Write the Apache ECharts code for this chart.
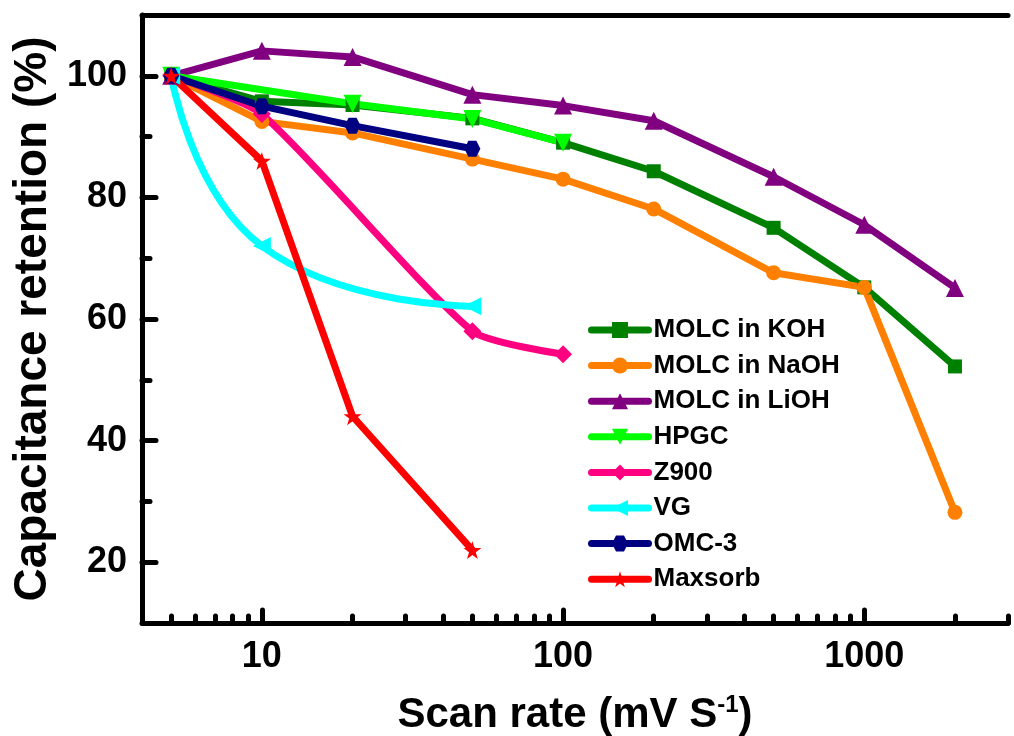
<!DOCTYPE html>
<html>
<head>
<meta charset="utf-8">
<script src="https://cdn.jsdelivr.net/npm/echarts@6/dist/echarts.min.js"></script>
<style>
  html, body { margin: 0; padding: 0; background: #fff; }
  #chart { width: 1014px; height: 736px; }
</style>
</head>
<body>
<div id="chart"></div>
<script>
// scan rates (mV/s) and capacitance retention (%)
const scanRates = [5, 10, 20, 50, 100, 200, 500, 1000, 2000];
const kohRetention = [100, 95.8, 95.2, 93, 89, 84.3, 75, 65.2, 52.2];
const naohRetention = [100, 92.5, 90.6, 86.3, 83, 78.1, 67.6, 65.2, 28.2];
const liohRetention = [100, 104.1, 103.1, 96.9, 95.1, 92.6, 83.4, 75.5, 65.1];

const hpgcRates = [5, 20, 50, 100];
const hpgcRetention = [100, 95.4, 92.9, 89];

const z900Rates = [5, 10, 50, 100];
const z900Retention = [100, 93.7, 58, 54.2];

const vgRates = [5, 10, 50];
const vgRetention = [100, 72, 62.1];

const omcRates = [5, 10, 20, 50];
const omcRetention = [100, 95, 91.8, 88];

const maxsorbRates = [5, 10, 20, 50];
const maxsorbRetention = [100, 86, 44, 22];

// axis ticks
const xMajorTicks = [10, 100, 1000];
const xMinorTicks = [5, 6, 7, 8, 9, 20, 30, 40, 50, 60, 70, 80, 90,
  200, 300, 400, 500, 600, 700, 800, 900, 2000, 3000];
const yMajorTicks = [20, 40, 60, 80, 100];
const yMinorTicks = [30, 50, 70, 90];

const FONT = '"Liberation Sans", Arial, sans-serif';
const STAR = 'path://M50,0 L61,35 L98,35 L68,57 L79,91 L50,70 L21,91 L32,57 L2,35 L39,35 Z';
const HEXAGON = 'path://M25,0 L75,0 L100,43 L75,86 L25,86 L0,43 Z';

const pairs = (xs, ys) => xs.map((x, i) => [x, ys[i]]);

const makeSeries = (name, color, symbol, xs, ys, extra) => ({
  name,
  type: 'line',
  data: pairs(xs, ys),
  symbol,
  symbolSize: 15,
  lineStyle: { color, width: 7, cap: 'round', join: 'round' },
  itemStyle: { color },
  ...extra,
});

const tickLine = { color: '#000', width: 5, cap: 'round' };

const chart = echarts.init(document.getElementById('chart'));

chart.setOption({
  animation: false,
  backgroundColor: '#fff',
  grid: { left: 142, right: 6, top: 15, bottom: 113, outerBoundsMode: 'none' },
  legend: {
    orient: 'vertical',
    left: 583,
    top: 312,
    itemWidth: 57,
    itemHeight: 20,
    itemGap: 9.6,
    textStyle: {
      fontFamily: FONT,
      fontWeight: 'bold',
      fontSize: 26,
      lineHeight: 26,
      color: '#000',
    },
    lineStyle: { width: 7, cap: 'round' },
  },
  xAxis: [
    {
      type: 'log',
      logBase: 10,
      min: 4,
      max: 3000,
      position: 'bottom',
      axisLine: { lineStyle: { color: '#000', width: 5 } },
      axisTick: {
        inside: true,
        length: 13,
        customValues: xMajorTicks,
        lineStyle: tickLine,
      },
      axisLabel: {
        customValues: xMajorTicks,
        formatter: (v) => String(Math.round(v)),
        margin: 16,
        fontFamily: FONT,
        fontWeight: 'bold',
        fontSize: 36,
        color: '#000',
      },
      splitLine: { show: false },
      name: '{a|Scan rate (mV S}{sup|-1}{a|)}',
      nameLocation: 'middle',
      nameGap: 70,
      nameTextStyle: {
        rich: {
          a: { fontFamily: FONT, fontWeight: 'bold', fontSize: 42, color: '#000' },
          sup: {
            fontFamily: FONT, fontWeight: 'bold', fontSize: 24, color: '#000',
            padding: [0, 0, 20, 0],
          },
        },
      },
    },
    {
      type: 'log',
      logBase: 10,
      min: 4,
      max: 3000,
      position: 'bottom',
      axisLine: { show: false },
      axisTick: {
        inside: true,
        length: 7,
        customValues: xMinorTicks,
        lineStyle: tickLine,
      },
      axisLabel: { show: false },
      splitLine: { show: false },
    },
    {
      type: 'value',
      min: 0,
      max: 1,
      position: 'top',
      axisLine: { show: true, lineStyle: { color: '#000', width: 5 } },
      axisTick: { show: false },
      axisLabel: { show: false },
      splitLine: { show: false },
    },
  ],
  yAxis: [
    {
      type: 'value',
      min: 10,
      max: 110,
      position: 'left',
      axisLine: { show: true, lineStyle: { color: '#000', width: 5 } },
      axisTick: {
        inside: true,
        length: 14,
        customValues: yMajorTicks,
        lineStyle: tickLine,
      },
      axisLabel: {
        customValues: yMajorTicks,
        margin: 15,
        fontFamily: FONT,
        fontWeight: 'bold',
        fontSize: 36,
        color: '#000',
      },
      splitLine: { show: false },
      name: 'Capacitance retention (%)',
      nameLocation: 'middle',
      nameGap: 84,
      nameTextStyle: {
        fontFamily: FONT,
        fontWeight: 'bold',
        fontSize: 46,
        color: '#000',
      },
    },
    {
      type: 'value',
      min: 10,
      max: 110,
      position: 'left',
      axisLine: { show: false },
      axisTick: {
        inside: true,
        length: 8,
        customValues: yMinorTicks,
        lineStyle: tickLine,
      },
      axisLabel: { show: false },
      splitLine: { show: false },
    },
  ],
  series: [
    makeSeries('MOLC in KOH', '#008000', 'rect', scanRates, kohRetention, { symbolSize: 14 }),
    makeSeries('MOLC in NaOH', '#ff8000', 'circle', scanRates, naohRetention),
    makeSeries('MOLC in LiOH', '#800080', 'triangle', scanRates, liohRetention, { symbolSize: 18 }),
    makeSeries('HPGC', '#00ff00', 'triangle', hpgcRates, hpgcRetention, { symbolSize: 18, symbolRotate: 180 }),
    makeSeries('Z900', '#ff0080', 'diamond', z900Rates, z900Retention, { symbolSize: 18, smooth: 0.2 }),
    makeSeries('VG', '#00ffff', 'triangle', vgRates, vgRetention, { symbolSize: 18, symbolRotate: 90, smooth: 0.5 }),
    makeSeries('OMC-3', '#000080', HEXAGON, omcRates, omcRetention, { symbolSize: 16 }),
    makeSeries('Maxsorb', '#ff0000', STAR, maxsorbRates, maxsorbRetention, { symbolSize: 18 }),
  ],
});
</script>
</body>
</html>
